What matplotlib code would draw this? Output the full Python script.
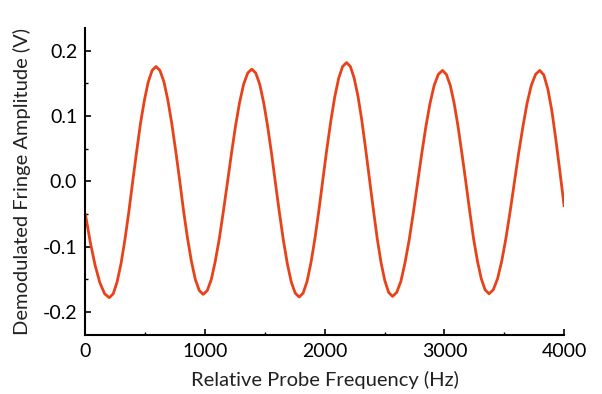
import matplotlib
matplotlib.use("Agg")
import matplotlib.pyplot as plt
from matplotlib.ticker import MultipleLocator

# Demodulated fringe amplitude (Hz, V)
freq_hz = [
    0, 40, 80, 120, 160,
    199, 232, 264, 297, 329, 362, 394, 427, 459, 492, 524, 557,
    589, 622, 655, 688, 721, 754, 787, 819, 852, 885, 918, 951,
    984, 1018, 1052, 1085, 1119, 1153, 1187, 1221, 1255, 1288, 1322, 1356,
    1390, 1423, 1456, 1489, 1522, 1555, 1588, 1621, 1654, 1687, 1720, 1753,
    1786, 1819, 1852, 1885, 1918, 1951, 1984, 2017, 2050, 2083, 2116, 2149,
    2182, 2214, 2246, 2278, 2310, 2342, 2374, 2406, 2438, 2470, 2502, 2534,
    2566, 2601, 2636, 2670, 2705, 2740, 2775, 2810, 2845, 2879, 2914, 2949,
    2984, 3016, 3049, 3081, 3114, 3146, 3179, 3211, 3243, 3276, 3308, 3340,
    3373, 3408, 3444, 3479, 3514, 3550, 3585, 3620, 3656, 3691, 3726, 3762,
    3797, 3831, 3865, 3899, 3932, 3966, 4000,
]
amplitude_v = [
    -0.051, -0.093, -0.128, -0.155, -0.172,
    -0.178, -0.172, -0.154, -0.126, -0.090, -0.047, -0.001, 0.045, 0.088, 0.124, 0.152, 0.170,
    0.176, 0.170, 0.153, 0.125, 0.089, 0.047, 0.002, -0.044, -0.086, -0.122, -0.150, -0.167,
    -0.173, -0.167, -0.150, -0.122, -0.087, -0.045, -0.001, 0.044, 0.086, 0.121, 0.149, 0.166,
    0.172, 0.166, 0.149, 0.121, 0.085, 0.043, -0.003, -0.048, -0.090, -0.126, -0.154, -0.171,
    -0.177, -0.171, -0.153, -0.124, -0.087, -0.044, 0.003, 0.049, 0.092, 0.129, 0.158, 0.176,
    0.182, 0.176, 0.158, 0.130, 0.093, 0.049, 0.003, -0.043, -0.087, -0.124, -0.152, -0.170,
    -0.176, -0.170, -0.153, -0.125, -0.090, -0.048, -0.003, 0.042, 0.084, 0.119, 0.147, 0.164,
    0.170, 0.164, 0.147, 0.120, 0.084, 0.043, -0.001, -0.045, -0.087, -0.122, -0.149, -0.166,
    -0.172, -0.166, -0.149, -0.122, -0.087, -0.045, -0.001, 0.043, 0.084, 0.120, 0.147, 0.164,
    0.170, 0.163, 0.141, 0.107, 0.063, 0.014, -0.037,
]

plt.rcParams["font.family"] = ["Lato", "DejaVu Sans"]

fig = plt.figure(figsize=(6.02, 3.94), dpi=100)
ax = fig.add_axes([0.142, 0.150, 0.795, 0.779])

ax.plot(freq_hz, amplitude_v, color="#e8421a", linewidth=2.0,
        solid_joinstyle="round")

ax.set_xlim(0, 4000)
ax.set_ylim(-0.235, 0.235)
ax.xaxis.set_major_locator(MultipleLocator(1000))
ax.xaxis.set_minor_locator(MultipleLocator(500))
ax.yaxis.set_major_locator(MultipleLocator(0.1))
ax.yaxis.set_minor_locator(MultipleLocator(0.05))
ax.yaxis.set_major_formatter(lambda v, pos: f"{v:.1f}")

for side in ("top", "right"):
    ax.spines[side].set_visible(False)
for side in ("left", "bottom"):
    ax.spines[side].set_linewidth(1.5)

ax.tick_params(which="major", direction="in", length=4, width=1.2,
               labelsize=14, pad=6)
ax.tick_params(which="minor", direction="in", length=2.5, width=1.0)

ax.set_xlabel("Relative Probe Frequency (Hz)", fontsize=14.5, color="#222222", labelpad=8)
ax.set_ylabel("Demodulated Fringe Amplitude (V)", fontsize=14.5, color="#222222", labelpad=8)

fig.savefig("out.png", dpi=100)
